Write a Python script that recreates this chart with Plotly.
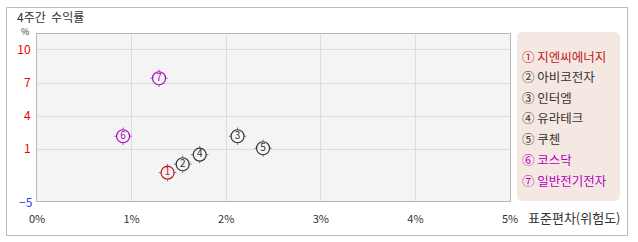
import plotly.graph_objects as go

names = ["지엔씨에너지", "아비코전자", "인터엠", "유라테크", "쿠첸", "코스닥", "일반전기전자"]
nums = ["1", "2", "3", "4", "5", "6", "7"]
circled = ["①", "②", "③", "④", "⑤", "⑥", "⑦"]
risk = [1.38, 1.54, 2.12, 1.72, 2.39, 0.91, 1.29]      # 표준편차 (%)
ret = [-1.12, -0.36, 2.18, 0.51, 1.09, 2.18, 7.44]     # 4주간 수익률 (%)
colors = ["#c01818", "#333333", "#333333", "#333333", "#333333", "#b000c0", "#b000c0"]
xticks = [0, 1, 2, 3, 4, 5]
xticktext = ["0%", "1%", "2%", "3%", "4%", "5%"]
yticks = [1, 4, 7, 10]

FONT = "Noto Sans CJK KR"
fig = go.Figure()

# tick marks around circles
fig.add_trace(go.Scatter(
    x=risk, y=ret, mode="markers",
    marker=dict(symbol="cross-thin-open", size=12.5, line=dict(color=colors, width=1)),
    hoverinfo="skip", showlegend=False))
# circles
fig.add_trace(go.Scatter(
    x=risk, y=ret, mode="markers+text", text=nums,
    textposition="middle center",
    textfont=dict(family=FONT, size=10, color=colors),
    marker=dict(symbol="circle", size=13, color="#f4f4f4", line=dict(color=colors, width=1.2)),
    showlegend=False))

L, R, T, B = 37, 128, 34, 41
W, H = 638, 242
pw, ph = W - L - R, H - T - B

def px(xp):
    return (xp - L) / pw

def py(yp):
    return (H - B - yp) / ph

shapes = []
# outer border
shapes.append(dict(type="rect", xref="paper", yref="paper",
                   x0=px(6.5), x1=px(627.5), y0=py(235.5), y1=py(7.5),
                   line=dict(color="#bbbbbb", width=1), fillcolor="rgba(0,0,0,0)", layer="below"))
# legend box with rounded corners
x0, x1, y0, y1 = 517, 620, 32, 201
r = 6
def P(a, b):
    return f"{px(a):.5f},{py(b):.5f}"
path = (f"M {P(x0 + r, y0)} L {P(x1 - r, y0)} Q {P(x1, y0)} {P(x1, y0 + r)} "
        f"L {P(x1, y1 - r)} Q {P(x1, y1)} {P(x1 - r, y1)} "
        f"L {P(x0 + r, y1)} Q {P(x0, y1)} {P(x0, y1 - r)} "
        f"L {P(x0, y0 + r)} Q {P(x0, y0)} {P(x0 + r, y0)} Z")
shapes.append(dict(type="path", xref="paper", yref="paper", path=path,
                   line=dict(width=0), fillcolor="#f5e8e2", layer="below"))

annotations = []
annotations.append(dict(text="4주간  수익률", x=px(15), y=py(17), xref="paper", yref="paper",
                        xanchor="left", yanchor="middle", showarrow=False,
                        font=dict(family=FONT, size=12, color="#333333")))
annotations.append(dict(text="%", x=px(30), y=py(32), xref="paper", yref="paper",
                        xanchor="right", yanchor="middle", showarrow=False, borderpad=0,
                        font=dict(family=FONT, size=9, color="#333333")))
annotations.append(dict(text="−5", x=px(35), y=py(201), xref="paper", yref="paper",
                        xanchor="right", yanchor="middle", showarrow=False,
                        font=dict(family=FONT, size=12, color="#3333ff")))
annotations.append(dict(text="표준편차(위험도)", x=px(526), y=py(217), xref="paper", yref="paper",
                        xanchor="left", yanchor="middle", showarrow=False,
                        font=dict(family=FONT, size=13, color="#333333")))
leg_y = [56, 76.7, 97, 117.3, 138, 159.5, 180]
for i, nm in enumerate(names):
    annotations.append(dict(text=f"{circled[i]} {nm}", x=px(520), y=py(leg_y[i]),
                            xref="paper", yref="paper", xanchor="left", yanchor="middle",
                            showarrow=False, font=dict(family=FONT, size=12.5, color=colors[i])))

fig.update_layout(
    width=W, height=H, margin=dict(l=L, r=R, t=T, b=B),
    paper_bgcolor="white", plot_bgcolor="#f4f4f4",
    font=dict(family=FONT, size=11, color="#333333"),
    xaxis=dict(range=[0, 5], tickvals=xticks, ticktext=xticktext, showgrid=True,
               gridcolor="#dcdcdc", gridwidth=1, zeroline=False, showline=True,
               linecolor="#b8b8b8", mirror=True, ticks="", ticklen=0,
               ticklabelstandoff=8,
               tickfont=dict(family=FONT, size=11, color="#333333")),
    yaxis=dict(range=[-3.69, 11.45], tickvals=yticks, showgrid=True,
               gridcolor="#dcdcdc", gridwidth=1, zeroline=False, showline=True,
               linecolor="#b8b8b8", mirror=True, ticks="", ticklen=0,
               ticklabelstandoff=3,
               tickfont=dict(family=FONT, size=12, color="#ee0000")),
    shapes=shapes, annotations=annotations,
)

fig.write_html("out.html")
